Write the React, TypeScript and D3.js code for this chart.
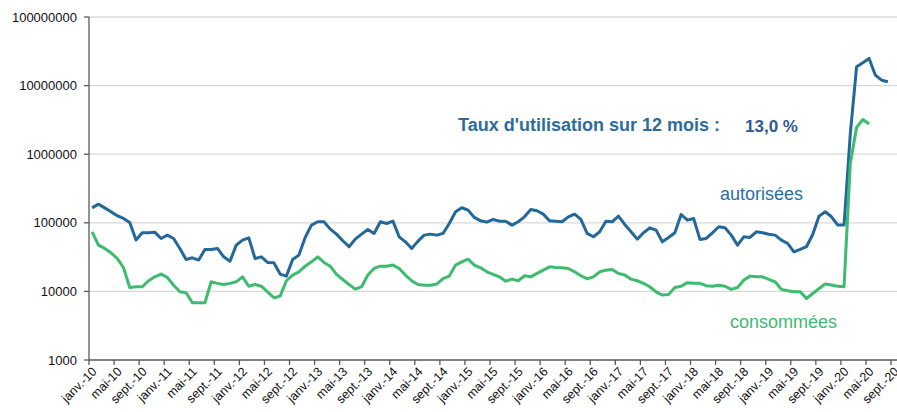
import React from 'react';
import * as d3 from 'd3';

// month labels (Excel french short format)
const monthNames = ['janv.', 'févr.', 'mars', 'avr.', 'mai', 'juin', 'juil.', 'août', 'sept.', 'oct.', 'nov.', 'déc.'];
const years = ['10', '11', '12', '13', '14', '15', '16', '17', '18', '19', '20'];
const lastMonthIndex = 8; // sept.-20

const categories: string[] = [];
years.forEach((y, yi) => {
  monthNames.forEach((m, mi) => {
    if (yi === years.length - 1 && mi > lastMonthIndex) return;
    categories.push(`${m}-${y}`);
  });
});

// heures autorisées, janv.-10 -> août-20
const autorisees = [
  165000, 187000, 165000, 145000, 127000, 116000, 101000, 56000, 71500, 71500, 73000, 59000,
  66000, 59000, 42300, 29200, 30900, 28600, 40800, 40800, 42300, 31900, 27600, 47200,
  55900, 60400, 30200, 31900, 26400, 26100, 17900, 16700, 29200, 33800, 61100, 92500,
  103500, 103500, 80900, 68400, 54700, 44700, 57800, 68400, 80000, 70000, 103500, 97700,
  105700, 62500, 52800, 42300, 54100, 66100, 68400, 66100, 70000, 97700, 144500, 165600,
  153100, 119700, 106900, 102300, 111900, 105700, 105700, 92500, 103500, 122200, 156400, 149600,
  133700, 106900, 105700, 103500, 122200, 133700, 111900, 70000, 62500, 74000, 105700, 103500,
  125000, 94600, 73900, 57800, 71500, 84500, 78200, 52800, 61100, 71500, 132100, 109400,
  115600, 57200, 59100, 71500, 87500, 84500, 66100, 47200, 62500, 61100, 73900, 71500,
  68000, 66100, 56000, 50000, 37800, 40900, 44800, 67600, 125000, 144800, 122400, 92600,
  92600, 2000000, 18800000, 21500000, 24900000, 14200000, 12000000, 11400000,
];

// heures consommées, janv.-10 -> mai-20
const consommees = [
  73900, 47200, 42300, 36500, 30200, 22300, 11400, 11700, 11700, 14300, 16300, 17900,
  16000, 12300, 9860, 9540, 6830, 6830, 6830, 13800, 13100, 12600, 13100, 13800,
  16300, 11900, 12600, 11900, 9860, 8070, 8530, 14300, 17300, 19300, 23300, 27000,
  31900, 26400, 23300, 17700, 14900, 12600, 10800, 11700, 17300, 21600, 23300, 23300,
  24200, 21600, 17300, 14300, 12600, 12300, 12300, 12800, 15400, 16700, 24200, 27000,
  29500, 24200, 22100, 19300, 17700, 16300, 14100, 15100, 14300, 16900, 16300, 18300,
  20400, 22800, 22300, 22100, 21600, 19300, 16900, 15300, 16300, 19300, 20400, 20900,
  18300, 17300, 15100, 14300, 13100, 11700, 9860, 8830, 9020, 11400, 11900, 13400,
  13100, 13100, 12100, 11900, 12300, 11900, 10700, 11400, 14600, 16700, 16300, 16300,
  15000, 13800, 10700, 10200, 9880, 9880, 7890, 9330, 11000, 12800, 12400, 11900,
  11700, 735000, 2460000, 3210000, 2750000,
];

const yTicks = [1000, 10000, 100000, 1000000, 10000000, 100000000];

const W = 897;
const H = 412;
const left = 89;
const right = 897.3;
const top = 17;
const bottom = 360;

const blue = '#22689a';
const green = '#3dbb6f';
const font = '"Liberation Sans", Arial, sans-serif';

export default function App() {
  const x = d3.scaleBand<string>().domain(categories).range([left, right]).padding(0);
  const bw = x.bandwidth();
  const cx = (i: number) => (x(categories[i]) as number) + bw / 2;
  const y = d3.scaleLog().domain([1000, 100000000]).range([bottom, top]);

  const line = d3
    .line<number>()
    .x((_, i) => cx(i))
    .y((d) => y(d));

  const tickIdx = d3.range(0, categories.length, 4);

  return (
    <svg
      width={W}
      height={H}
      style={{ position: 'absolute', left: 0, top: 0, background: '#fff' }}
      fontFamily={font}
    >
      {/* gridlines */}
      {yTicks.slice(1).map((t) => (
        <line key={t} x1={left} x2={right} y1={y(t)} y2={y(t)} stroke="#d9d9d9" strokeWidth={1.3} />
      ))}

      {/* y axis */}
      <line x1={left} x2={left} y1={top} y2={bottom} stroke="#595959" strokeWidth={1.3} />
      {yTicks.map((t) => (
        <g key={t}>
          <line x1={left - 5} x2={left} y1={y(t)} y2={y(t)} stroke="#595959" strokeWidth={1.3} />
          <text x={left - 12} y={y(t)} dy="0.35em" textAnchor="end" fontSize={13} fill="#111">
            {d3.format('d')(t)}
          </text>
        </g>
      ))}

      {/* x axis */}
      <line x1={left} x2={right} y1={bottom} y2={bottom} stroke="#595959" strokeWidth={1.3} />
      {tickIdx.map((i) => (
        <line
          key={'t' + i}
          x1={x(categories[i]) as number}
          x2={x(categories[i]) as number}
          y1={bottom}
          y2={bottom + 5}
          stroke="#595959"
          strokeWidth={1.3}
        />
      ))}
      {tickIdx.map((i) => (
        <text
          key={'l' + i}
          transform={`translate(${cx(i) - 1},${bottom + 6}) rotate(-45)`}
          textAnchor="end"
          dy="0.72em"
          fontSize={12.5}
          fill="#111"
        >
          {categories[i]}
        </text>
      ))}

      {/* series */}
      <path d={line(autorisees) || ''} fill="none" stroke={blue} strokeWidth={3} strokeLinejoin="round" />
      <path d={line(consommees) || ''} fill="none" stroke={green} strokeWidth={3} strokeLinejoin="round" />

      {/* annotations */}
      <text x={458} y={131} fontSize={18} fontWeight="bold" fill="#2c6c9c">
        Taux d'utilisation sur 12 mois :
      </text>
      <text x={745} y={132} fontSize={17} fontWeight="bold" fill="#2f5a8e">
        13,0 %
      </text>
      <text x={720} y={200} fontSize={18} fill="#2b6ea3">
        autorisées
      </text>
      <text x={730} y={328} fontSize={18} fill={green}>
        consommées
      </text>
    </svg>
  );
}
